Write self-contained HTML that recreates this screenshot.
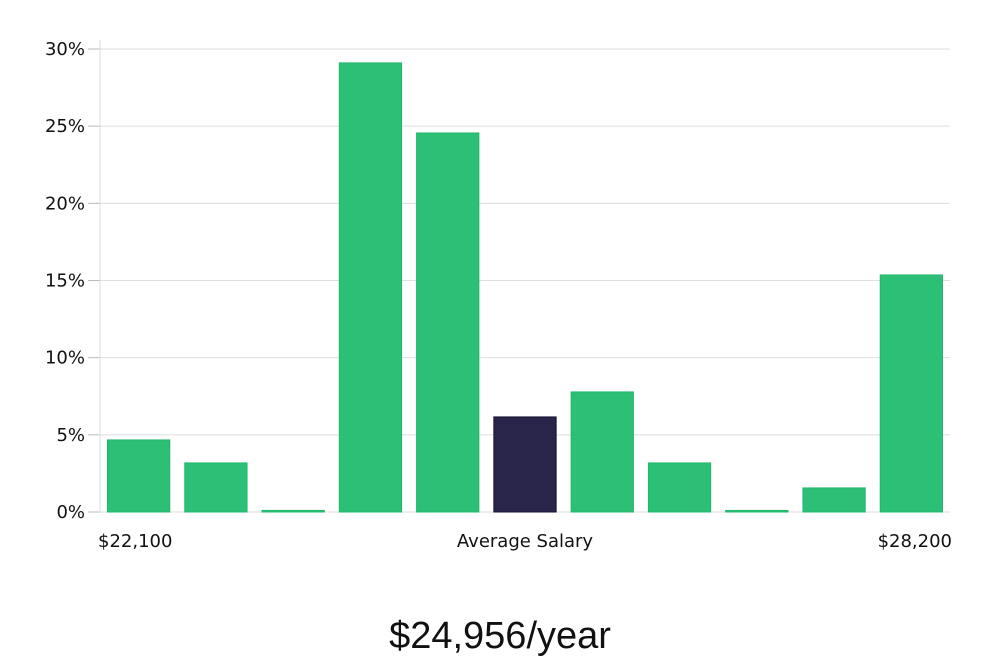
<!DOCTYPE html>
<html><head><meta charset="utf-8"><style>
html,body{margin:0;padding:0;background:#fff;width:1000px;height:660px;overflow:hidden}
svg text{font-family:"DejaVu Sans","Liberation Sans",sans-serif;fill:#111}
</style></head><body>
<svg id="chart" width="1000" height="660" xmlns="http://www.w3.org/2000/svg">
<g id="grid"></g>
<g id="yaxis"></g>
<g id="bars"></g>
<text x="98" y="547" font-size="18">$22,100</text>
<text x="525" y="547" font-size="18" text-anchor="middle">Average Salary</text>
<text x="952" y="547" font-size="18" text-anchor="end">$28,200</text>
<text x="500" y="648" font-size="38" text-anchor="middle" style="font-family:'Liberation Sans',sans-serif;font-weight:300">$24,956/year</text>
</svg>
<script>
const values = [4.67, 3.18, 0.1, 29.1, 24.56, 6.16, 7.78, 3.18, 0.1, 1.56, 15.36];
const highlightIndex = 5;
const yTicks = [0, 5, 10, 15, 20, 25, 30];
const yTickLabels = ["0%", "5%", "10%", "15%", "20%", "25%", "30%"];

const ns = "http://www.w3.org/2000/svg";
const left = 100, right = 950, y0 = 512, yTop = 49, yMaxVal = 30;
const y = v => y0 - (v / yMaxVal) * (y0 - yTop);
const band = (right - left) / values.length;
const x = i => left + i * band;

const grid = document.getElementById('grid');
const yaxis = document.getElementById('yaxis');
yTicks.forEach((t, i) => {
  const g = document.createElementNS(ns, 'line');
  
  
  g.setAttribute('x1', left); g.setAttribute('x2', right);
  g.setAttribute('y1', y(t)); g.setAttribute('y2', y(t));
  g.setAttribute('stroke', '#dedede'); g.setAttribute('stroke-width', '1');
  grid.appendChild(g);
  const tk = document.createElementNS(ns, 'line');
  
  
  tk.setAttribute('x1', 88); tk.setAttribute('x2', left);
  tk.setAttribute('y1', y(t)); tk.setAttribute('y2', y(t));
  tk.setAttribute('stroke', '#bbb');
  yaxis.appendChild(tk);
  const lb = document.createElementNS(ns, 'text');
  
  
  lb.setAttribute('x', 85); lb.setAttribute('y', y(t) + 6);
  lb.setAttribute('font-size', '18'); lb.setAttribute('text-anchor', 'end');
  lb.textContent = yTickLabels[i];
  yaxis.appendChild(lb);
});
const ax = document.createElementNS(ns, 'line');


ax.setAttribute('x1', left); ax.setAttribute('x2', left);
ax.setAttribute('y1', 40); ax.setAttribute('y2', y0);
ax.setAttribute('stroke', '#ddd');
yaxis.appendChild(ax);

const bars = document.getElementById('bars');
values.forEach((v, i) => {
  const r = document.createElementNS(ns, 'rect');
  
  
  const hl = i === highlightIndex;
  r.setAttribute('x', x(i) + 7.5);
  r.setAttribute('width', band - 15);
  r.setAttribute('y', y(v));
  r.setAttribute('height', Math.max(1, y0 - y(v)));
  r.setAttribute('fill', hl ? '#29254a' : '#2cbf76');
  r.setAttribute('stroke', hl ? '#151230' : '#22b86c');
  r.setAttribute('stroke-width', '1');
  bars.appendChild(r);
});
</script>
</body></html>
